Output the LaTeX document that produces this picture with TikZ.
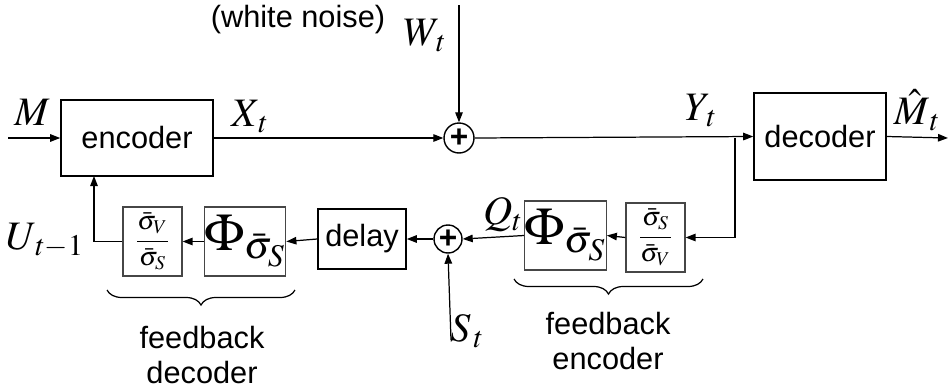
\documentclass[tikz,border=0pt]{standalone}
\usepackage{mathptmx}
\usepackage{fontspec}
\setmainfont{Liberation Sans}
\usetikzlibrary{arrows.meta,decorations.pathreplacing}

\begin{document}
\begin{tikzpicture}[x=0.02cm, y=-0.02cm, >={Triangle[length=0.2cm, width=0.15cm]}]
  \tikzset{
    block/.style={rectangle, draw, line width=0.9pt, inner sep=0pt,
      font=\fontsize{17.5}{20}\selectfont},
    gblock/.style={rectangle, draw={rgb,255:red,70;green,70;blue,70}, line width=0.7pt,
      inner sep=0pt, minimum height=1.38cm},
    sum/.style={circle, draw, line width=0.8pt, inner sep=0pt,
      font=\fontsize{18}{20}\selectfont\bfseries},
    signal/.style={->, line width=0.7pt},
    lbl/.style={inner sep=0pt, font=\fontsize{23}{25}\selectfont},
    fraclbl/.style={font=\fontsize{15}{17}\selectfont},
    philbl/.style={font=\fontsize{30}{32}\selectfont},
    txt/.style={inner sep=0pt, align=center, font=\fontsize{17.5}{19.5}\selectfont},
    fbrace/.style={decorate, decoration={brace, mirror, amplitude=0.3cm}, line width=0.7pt}
  }
  \useasboundingbox (0,0) rectangle (951,389);

  % forward path
  \node[block, minimum width=3.04cm, minimum height=1.52cm] (enc) at (137,138) {encoder};
  \node[sum, minimum size=0.6cm] (sumW) at (459,138) {+};
  \node[block, minimum width=2.64cm, minimum height=1.74cm] (dec) at (820,136.5) {decoder};
  \coordinate (in) at (8,138);
  \coordinate (wtop) at (459,5);
  \coordinate (split) at (735,138);
  \coordinate (out) at (948,138);

  % feedback path
  \node[gblock, fraclbl, minimum width=1.18cm] (fracE) at (655.5,237.5)
    {$\displaystyle\frac{\bar\sigma_S}{\bar\sigma_V}$};
  \node[gblock, philbl, minimum width=1.54cm] (phiE) at (565.5,235.5)
    {$\Phi_{\bar\sigma_S}$};
  \node[sum, minimum size=0.56cm] (sumS) at (448,239) {+};
  \node[block, minimum width=1.76cm, minimum height=1.2cm] (delay) at (362,239) {delay};
  \node[gblock, philbl, minimum width=1.52cm] (phiD) at (245,241.5)
    {$\Phi_{\bar\sigma_S}$};
  \node[gblock, fraclbl, minimum width=1.18cm] (fracD) at (152.5,241.5)
    {$\displaystyle\frac{\bar\sigma_V}{\bar\sigma_S}$};
  \coordinate (sin) at (451,340);
  \coordinate (uup) at (94,176);

  \draw[signal] (in) -- (enc.west);
  \draw[signal] (enc.east) -- (sumW.west);
  \draw[signal] (wtop) -- (sumW.north);
  \draw[signal] (sumW.east) -- (dec.west);
  \draw[signal] (dec.east) -- (out);
  \draw[signal] (split) |- (fracE.east);
  \draw[signal] (fracE.west) -- (phiE.east);
  \draw[signal] (phiE.west) -- (sumS.east);
  \draw[signal] (sin) -- (sumS.south);
  \draw[signal] (sumS.west) -- (delay.east);
  \draw[signal] (delay.west) -- (phiD.east);
  \draw[signal] (phiD.west) -- (fracD.east);
  \draw[signal] (fracD.west) -| (uup);

  % labels
  \node[txt] (noise) at (298,20) {(white noise)};
  \node[lbl] (lW) at (425,36) {$W_{\,t}$};
  \node[lbl] (lM) at (32,112) {$M$};
  \node[lbl] (lX) at (250,117) {$X_{\,t}$};
  \node[lbl] (lY) at (701,111) {$Y_{\,t}$};
  \node[lbl] (lMh) at (917,110) {$\hat M_{\,t}$};
  \node[lbl] (lU) at (45,241) {$U_{\,t-1}$};
  \node[lbl] (lQ) at (503,215) {$Q_t$};
  \node[lbl] (lS) at (467,331) {$S_{\,t}$};

  % braces
  \draw[fbrace] (107,290) -- (295,290);
  \draw[fbrace] (514,279) -- (703,279);
  \node[txt] (fbD) at (202,355) {feedback\\decoder};
  \node[txt] (fbE) at (608,341) {feedback\\encoder};
\end{tikzpicture}
\end{document}
